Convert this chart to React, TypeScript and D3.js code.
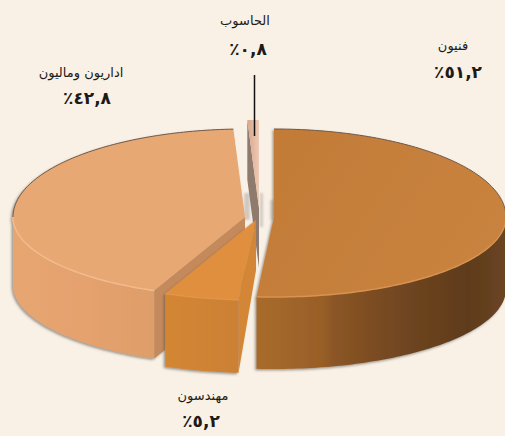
import React from "react";
import * as d3 from "d3";

const categories = ["فنيون", "مهندسون", "اداريون وماليون", "الحاسوب"];
const shares = [51.2, 5.2, 42.8, 0.8];
const valueLabels = ["٥١,٢٪", "٥,٢٪", "٤٢,٨٪", "٠,٨٪"];

type Style = {
  cx: number; cy: number; depth: number; inner: number;
  top: string; wall: string; cut: string; rimLight: string;
  name: [number, number]; value: [number, number];
};
const styles: Style[] = [
  { cx: 274, cy: 217, depth: 72, inner: 0, top: "url(#techTop)", wall: "url(#techWall)", cut: "#A96C2C", rimLight: "#D89350", name: [453, 50], value: [458, 78] },
  { cx: 256, cy: 220, depth: 73, inner: 50, top: "#DF8F3D", wall: "url(#engWall)", cut: "#D38635", rimLight: "#E29548", name: [203, 400], value: [201, 427] },
  { cx: 245, cy: 217, depth: 68, inner: 68, top: "#E8A873", wall: "url(#admWall)", cut: "#C58A5B", rimLight: "#F3BC8E", name: [81, 77], value: [87, 104] },
  { cx: 259, cy: 208, depth: 60, inner: 60, top: "url(#compTop)", wall: "#8A7468", cut: "#8F7A6E", rimLight: "#EBC4AC", name: [245, 25], value: [248, 55] },
];

const pie = d3.pie<number>().sort(null).value((d) => d).startAngle(0).endAngle(2 * Math.PI);
const arcs = pie(shares);
const line = d3.line();
const sX = d3.scaleLinear().domain([-1, 1]).range([-232, 232]);
const sY = d3.scaleLinear().domain([-1, 0, 1]).range([-88, 0, 80]);

const project = (s: Style, a: number, drop = 0): [number, number] => [
  s.cx + sX(Math.sin(a)),
  s.cy + sY(-Math.cos(a)) + drop,
];
const angles = (a0: number, a1: number) => {
  const n = Math.max(2, Math.ceil(Math.abs(a1 - a0) / 0.02));
  return d3.range(n + 1).map((i) => a0 + ((a1 - a0) * i) / n);
};

function Slice({ i }: { i: number }) {
  const s = styles[i];
  const { startAngle: a0, endAngle: a1 } = arcs[i];
  const topPts = [[s.cx, s.cy] as [number, number], ...angles(a0, a1).map((a) => project(s, a))];
  const apexDown: [number, number] = [s.cx, s.cy + s.inner];
  const wa0 = Math.max(a0, Math.PI / 2);
  const wa1 = Math.min(a1, (3 * Math.PI) / 2);
  const hasWall = wa1 > wa0;
  const wallPts = hasWall
    ? [...angles(wa0, wa1).map((a) => project(s, a)), ...angles(wa1, wa0).map((a) => project(s, a, s.depth))]
    : [];
  // cut faces turned towards the viewer
  const cuts: [number, number][][] = [];
  if (i === 1) {
    cuts.push([[s.cx, s.cy], project(s, a0), project(s, a0, s.depth), apexDown]);
  }
  if (i === 2 || i === 3) {
    cuts.push([project(s, a0), [s.cx, s.cy], apexDown, project(s, a0, s.depth)]);
  }
  const back = angles(Math.max(a0, 1.5 * Math.PI), Math.max(a1, 1.5 * Math.PI));
  const backR = angles(a0, Math.min(a1, Math.PI / 2));
  return (
    <g filter={i === 3 ? undefined : "url(#shade)"}>
      {cuts.map((c, k) => (
        <path key={k} d={line(c) + "Z"} fill={s.cut} />
      ))}
      {hasWall && <path d={line(wallPts) + "Z"} fill={s.wall} />}
      <path d={line(topPts) + "Z"} fill={s.top} />
      {hasWall && (
        <path d={line(angles(wa0, wa1).map((a) => project(s, a))) ?? ""} fill="none" stroke={s.rimLight} strokeWidth={1.5} />
      )}
      {i !== 3 && i !== 1 && (
        <path
          d={line((a0 < Math.PI / 2 ? backR : back).map((a) => project(s, a))) ?? ""}
          fill="none"
          stroke="#6E5848"
          strokeWidth={1}
        />
      )}
    </g>
  );
}

export default function App() {
  const font = "'DejaVu Sans', sans-serif";
  return (
    <svg
      width={505}
      height={436}
      viewBox="0 0 505 436"
      style={{ position: "fixed", left: 0, top: 0, background: "#F9F1E6" }}
    >
      <defs>
        <filter id="shade" x="-10%" y="-10%" width="120%" height="120%">
          <feDropShadow dx={-1.5} dy={1.5} stdDeviation={1.2} floodColor="#55504A" floodOpacity={0.55} />
        </filter>
        <filter id="soft"><feGaussianBlur stdDeviation={1.2} /></filter>
        <linearGradient id="techTop" gradientUnits="userSpaceOnUse" x1={257} y1={129} x2={505} y2={297}>
          <stop offset="0" stopColor="#C27B37" />
          <stop offset="1" stopColor="#CA8440" />
        </linearGradient>
        <linearGradient id="techWall" gradientUnits="userSpaceOnUse" x1={257} y1={0} x2={505} y2={0}>
          <stop offset="0" stopColor="#A86B2B" />
          <stop offset="0.26" stopColor="#985F28" />
          <stop offset="0.32" stopColor="#8A5525" />
          <stop offset="0.6" stopColor="#6F4520" />
          <stop offset="0.85" stopColor="#5F3B1C" />
          <stop offset="1" stopColor="#6A4522" />
        </linearGradient>
        <linearGradient id="admWall" gradientUnits="userSpaceOnUse" x1={13} y1={0} x2={155} y2={0}>
          <stop offset="0" stopColor="#E7A671" />
          <stop offset="0.5" stopColor="#E5A16E" />
          <stop offset="1" stopColor="#DE9E6A" />
        </linearGradient>
        <linearGradient id="engWall" gradientUnits="userSpaceOnUse" x1={163} y1={0} x2={240} y2={0}>
          <stop offset="0" stopColor="#D48733" />
          <stop offset="1" stopColor="#CB8034" />
        </linearGradient>
        <linearGradient id="compTop" gradientUnits="userSpaceOnUse" x1={248} y1={0} x2={260} y2={0}>
          <stop offset="0" stopColor="#D9A78E" />
          <stop offset="1" stopColor="#F0CDB8" />
        </linearGradient>
      </defs>

      <g fill="#8E8A86" opacity={0.38} filter="url(#soft)">
        <rect x={244} y={193} width={6} height={27} />
        <rect x={260} y={193} width={3} height={34} />
        <rect x={270} y={200} width={4} height={20} />
      </g>

      {[2, 3, 1, 0].map((i) => (
        <Slice key={i} i={i} />
      ))}

      <line x1={254.5} x2={254.5} y1={75} y2={136} stroke="#111" strokeWidth={1.5} />

      {categories.map((c, i) => (
        <g key={c} fill="#1E1A16" fontFamily={font} textAnchor="middle" style={{ direction: "rtl" }}>
          <text x={styles[i].name[0]} y={styles[i].name[1]} fontSize={13}>{c}</text>
          <text x={styles[i].value[0]} y={styles[i].value[1]} fontSize={17} fontWeight="bold" letterSpacing={0.8}>{valueLabels[i]}</text>
        </g>
      ))}
    </svg>
  );
}
